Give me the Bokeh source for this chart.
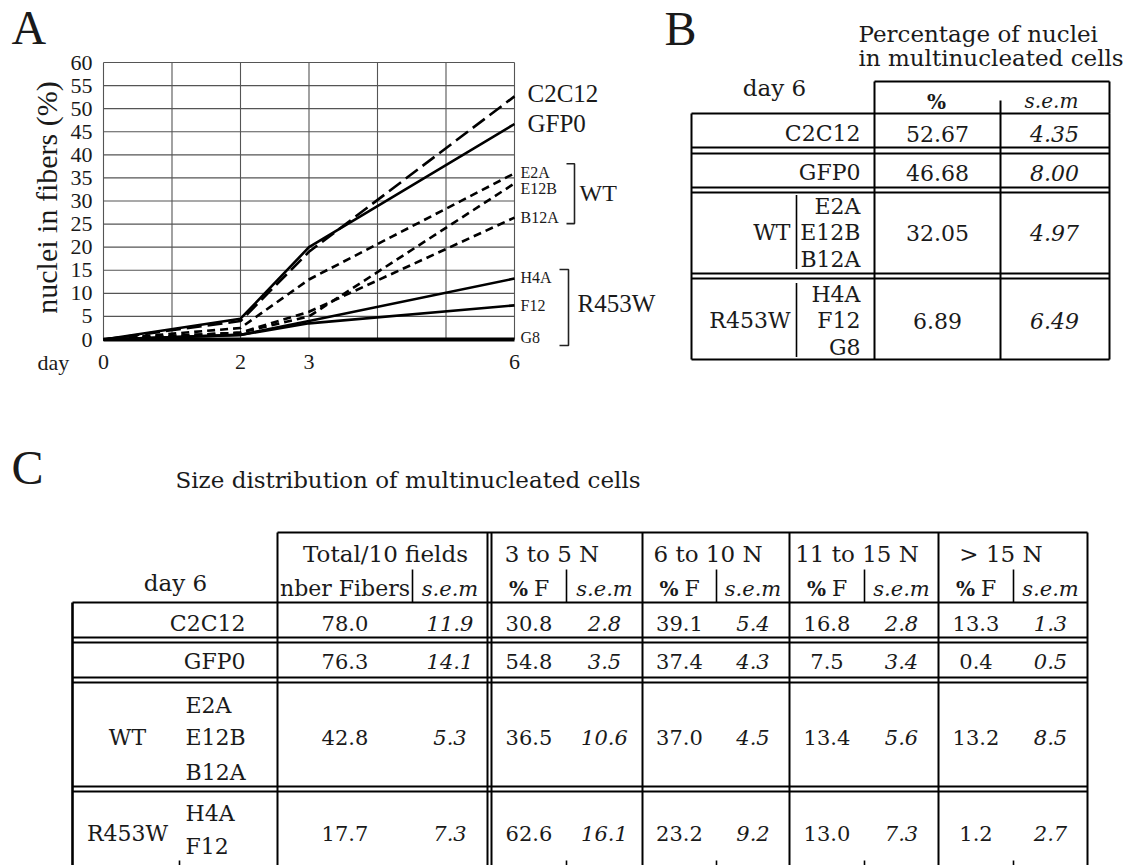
import math
from bokeh.plotting import figure
from bokeh.models import Range1d, ColumnDataSource, FixedTicker
from bokeh.layouts import column, row
from bokeh.embed import file_html
from bokeh.resources import INLINE
from bokeh.core.properties import value

# ---------------- Panel A data ----------------
days = [0, 2, 3, 6]
c2c12 = [0, 4.0, 19.0, 52.67]
gfp0 = [0, 4.5, 20.0, 46.68]
e2a = [0, 2.5, 13.0, 36.0]
e12b = [0, 1.5, 5.0, 33.8]
b12a = [0, 1.5, 6.0, 26.4]
h4a = [0, 1.0, 4.0, 13.2]
f12 = [0, 1.0, 3.5, 7.4]
g8 = [0, 0, 0, 0]
series_names = ["C2C12", "GFP0", "E2A", "E12B", "B12A", "H4A", "F12", "G8"]
x_ticks = [0, 2, 3, 6]
y_ticks = list(range(0, 61, 5))
grid_days = [0, 1, 2, 3, 4, 5, 6]

# ---------------- Panel B data ----------------
groups = ["C2C12", "GFP0", "WT", "R453W"]
b_clones = [[], [], ["E2A", "E12B", "B12A"], ["H4A", "F12", "G8"]]
b_pct = ["52.67", "46.68", "32.05", "6.89"]
b_sem = ["4.35", "8.00", "4.97", "6.49"]

# ---------------- Panel C data ----------------
c_clones = [[], [], ["E2A", "E12B", "B12A"], ["H4A", "F12"]]
c_headers = ["Total/10 fields", "3 to 5 N", "6 to 10 N", "11 to 15 N", "> 15 N"]
c_first_sub = ["nber Fibers", "% F", "% F", "% F", "% F"]
c_total = ["78.0", "76.3", "42.8", "17.7"]
c_total_sem = ["11.9", "14.1", "5.3", "7.3"]
c_3to5 = ["30.8", "54.8", "36.5", "62.6"]
c_3to5_sem = ["2.8", "3.5", "10.6", "16.1"]
c_6to10 = ["39.1", "37.4", "37.0", "23.2"]
c_6to10_sem = ["5.4", "4.3", "4.5", "9.2"]
c_11to15 = ["16.8", "7.5", "13.4", "13.0"]
c_11to15_sem = ["2.8", "3.4", "5.6", "7.3"]
c_gt15 = ["13.3", "0.4", "13.2", "1.2"]
c_gt15_sem = ["1.3", "0.5", "8.5", "2.7"]

SERIF = "DejaVu Serif"
TIMES = "Liberation Serif"
INK = "#1a1a1a"


def put(p, xs, ys, texts, align="center", size=21, style="normal", font=SERIF, color=INK, angle=0.0):
    src = ColumnDataSource(dict(x=list(xs), y=list(ys), t=list(texts)))
    p.text(x="x", y="y", text="t", source=src, text_align=align, text_baseline="middle",
           text_font=value(font), text_font_size=f"{size}px", text_font_style=style,
           text_color=color, angle=angle)


def segs(p, x0, y0, x1, y1, w=2.0, color="black"):
    p.segment(x0=list(x0), y0=list(y0), x1=list(x1), y1=list(y1), line_width=w, line_color=color)


# =============== Panel A: line chart ===============
PX_DAY = 68.5          # pixels per day
PX_UNIT = 277 / 60.0   # pixels per percent
X0_PX, Y0_PX = 103, 339  # where (0, 0) sits inside the panel
WA, HA = 660, 420


def dx(px):
    return (px - X0_PX) / PX_DAY


def dy(py):
    return (Y0_PX - py) / PX_UNIT


pA = figure(width=WA, height=HA, x_range=Range1d(dx(0), dx(WA)), y_range=Range1d(dy(HA), dy(0)),
            output_backend="svg", toolbar_location=None, min_border=0)
pA.outline_line_color = None
pA.grid.visible = False

segs(pA, grid_days, [0] * len(grid_days), grid_days, [60] * len(grid_days), w=1.1, color="#555555")
segs(pA, [0] * len(y_ticks), y_ticks, [6] * len(y_ticks), y_ticks, w=1.1, color="#555555")

series = [c2c12, gfp0, e2a, e12b, b12a, h4a, f12, g8]
dashes = ["15 6", "solid", "8 5", "8 5", "8 5", "solid", "solid", "solid"]
widths = [2.6, 2.6, 2.6, 2.6, 2.6, 2.6, 2.6, 4.0]
for vals, d, w in zip(series, dashes, widths):
    pA.line(days, vals, line_width=w, line_color="black", line_dash=d)

big = [True, True, False, False, False, False, False, False]
nudge = [0.6, 0.1, 0.2, -1.1, 0.0, 0.2, 0.0, 0.4]
ends = [s[-1] for s in series]
put(pA, [6 + 13 / PX_DAY] * 2, [e + n for e, n, b in zip(ends, nudge, big) if b],
    [nm for nm, b in zip(series_names, big) if b], align="left", size=25, font=TIMES)
put(pA, [6 + 6 / PX_DAY] * 6, [e + n for e, n, b in zip(ends, nudge, big) if not b],
    [nm for nm, b in zip(series_names, big) if not b], align="left", size=16, font=TIMES)


def bracket(p, x_tick0, x_bar, y_top, y_bot):
    p.multi_line(xs=[[x_tick0, x_bar, x_bar, x_tick0]], ys=[[y_top, y_top, y_bot, y_bot]],
                 line_color="#222222", line_width=1.6)


bracket(pA, 6 + 52 / PX_DAY, 6 + 60 / PX_DAY, ends[2] + 9.5 / PX_UNIT, ends[4] - 6 / PX_UNIT)
bracket(pA, 6 + 45 / PX_DAY, 6 + 54 / PX_DAY, ends[5] + 9 / PX_UNIT, ends[7] - 6 / PX_UNIT)
put(pA, [6 + 65 / PX_DAY], [(ends[2] + ends[4]) / 2 + 0.6], ["WT"], align="left", size=24, font=TIMES)
put(pA, [6 + 63 / PX_DAY], [ends[6] + 0.4], ["R453W"], align="left", size=25, font=TIMES)

# axes pinned at the data origin
pA.yaxis.ticker = FixedTicker(ticks=y_ticks)
pA.xaxis.ticker = FixedTicker(ticks=x_ticks)
pA.yaxis.fixed_location = 0
pA.xaxis.fixed_location = 0
for ax in (pA.xaxis, pA.yaxis):
    ax.axis_line_color = None
    ax.major_tick_line_color = None
    ax.minor_tick_line_color = None
    ax.major_tick_in = 0
    ax.major_tick_out = 0
    ax.major_label_text_font = TIMES
    ax.major_label_text_font_size = "22px"
    ax.major_label_text_color = INK
pA.yaxis.major_label_standoff = 11
pA.xaxis.major_label_standoff = 15

put(pA, [dx(46)], [dy(197)], ["nuclei in fibers (%)"], size=30, font=TIMES, angle=math.pi / 2)
put(pA, [dx(37)], [dy(362)], ["day"], align="left", size=22, font=TIMES)
put(pA, [dx(11)], [dy(27)], ["A"], align="left", size=48, font=TIMES)

# =============== Panel B: table ===============
WB = 470
pB = figure(width=WB, height=HA, x_range=Range1d(WA, WA + WB), y_range=Range1d(HA, 0),
            output_backend="svg", toolbar_location=None, min_border=0,
            x_axis_location=None, y_axis_location=None)
pB.outline_line_color = None
pB.grid.visible = False

bL, bC1, bC2, bR = 691, 874, 1000, 1109
b_head = (81, 113)
b_rows = [(113, 147), (153, 187), (192, 273), (278, 359)]
b_text_y = [133, 172, 232, 320]

segs(pB, [bC1], [b_head[0]], [bR], [b_head[0]])
segs(pB, [bC1, bR, bC2], [b_head[0], b_head[0], 100], [bC1, bR, bC2], [b_head[1]] * 3)
for top, bot in b_rows:
    segs(pB, [bL, bL], [top, bot], [bR, bR], [top, bot])
segs(pB, [bL, bC1, bC2, bR], [b_rows[0][0]] * 4, [bL, bC1, bC2, bR], [b_rows[-1][1]] * 4)

put(pB, [774], [87], ["day 6"], size=23)
put(pB, [936], [101], ["%"], size=20, style="bold")
put(pB, [1051], [100], ["s.e.m"], size=20, style="italic")
put(pB, [858], [33], ["Percentage of nuclei"], align="left", size=23)
put(pB, [858], [57], ["in multinucleated cells"], align="left", size=23)
put(pB, [664], [28], ["B"], align="left", size=48, font=TIMES)

for g, cl, y, pc, se in zip(groups, b_clones, b_text_y, b_pct, b_sem):
    if cl:
        cy = [y + (i - (len(cl) - 1) / 2) * 26.5 for i in range(len(cl))]
        put(pB, [860] * len(cl), cy, cl, align="right", size=22)
        put(pB, [790], [y], [g], align="right", size=22)
        segs(pB, [796], [cy[0] - 11], [796], [cy[-1] + 10], w=1.6)
    else:
        put(pB, [860], [y], [g], align="right", size=22)
    put(pB, [937], [y], [pc], size=22)
    put(pB, [1054], [y], [se], size=22, style="italic")

# =============== Panel C: table ===============
WC, HC = WA + WB, 445
pC = figure(width=WC, height=HC, x_range=Range1d(0, WC), y_range=Range1d(HA + HC, HA),
            output_backend="svg", toolbar_location=None, min_border=0,
            x_axis_location=None, y_axis_location=None)
pC.outline_line_color = None
pC.grid.visible = False

cL, cLab = 72, 277
g_bounds = [(277, 487), (491, 642), (642, 789), (789, 938), (938, 1087)]
g_sub = [412, 566, 716, 864, 1013]
g_title_shift = [3, -15, -8, -7, -12]
c_head = (532, 602)
c_rows = [(602, 637), (642, 677), (682, 786), (791, 900)]
c_text_y = [623, 661, 737, 833]
c_bottom = 900
cR = g_bounds[-1][1]

segs(pC, [cLab], [c_head[0]], [cR], [c_head[0]])
for top, bot in c_rows:
    segs(pC, [cL], [top], [cR], [top])
    if bot < c_bottom:
        segs(pC, [cL], [bot], [cR], [bot])
vx = [cLab, 487, 491] + [b[1] for b in g_bounds[1:]]
segs(pC, vx, [c_head[0]] * len(vx), vx, [c_bottom] * len(vx))
segs(pC, [cL], [c_rows[0][0]], [cL], [c_bottom], w=2.6)
segs(pC, g_sub, [569] * len(g_sub), g_sub, [c_head[1]] * len(g_sub), w=1.6)
segs(pC, g_sub[1:] + [179], [860] * 5, g_sub[1:] + [179], [c_bottom] * 5, w=1.6)

put(pC, [11], [467], ["C"], align="left", size=48, font=TIMES)
put(pC, [175], [479], ["Size distribution of multinucleated cells"], align="left", size=23)
put(pC, [175], [582], ["day 6"], size=23)

for (a, b), sub, sh, title, first in zip(g_bounds, g_sub, g_title_shift, c_headers, c_first_sub):
    put(pC, [(a + b) / 2 + sh], [553], [title], size=23)
    c1 = (a + sub) / 2
    c2 = (sub + b) / 2
    if first == "% F":
        put(pC, [c1 - 1], [588], ["%"], align="right", size=20, style="bold")
        put(pC, [c1 + 5], [588], ["F"], align="left", size=22)
    else:
        put(pC, [c1], [588], [first], size=22)
    put(pC, [c2], [588], ["s.e.m"], size=21, style="italic")

cols_val = [c_total, c_3to5, c_6to10, c_11to15, c_gt15]
cols_sem = [c_total_sem, c_3to5_sem, c_6to10_sem, c_11to15_sem, c_gt15_sem]
for (a, b), sub, vals, sems in zip(g_bounds, g_sub, cols_val, cols_sem):
    put(pC, [(a + sub) / 2] * 4, c_text_y, vals, size=21)
    put(pC, [(sub + b) / 2] * 4, c_text_y, sems, size=21, style="italic")

for g, cl, y in zip(groups, c_clones, c_text_y):
    if cl:
        cy = [y - 32, y, y + 35] if len(cl) == 3 else [y - 20, y + 13]
        put(pC, [185] * len(cl), cy, cl, align="left", size=22)
        put(pC, [127], [y], [g], size=22)
    else:
        put(pC, [245], [y], [g], align="right", size=22)

layout = column(row(pA, pB), pC)
open("out.html", "w").write(file_html(layout, INLINE))
